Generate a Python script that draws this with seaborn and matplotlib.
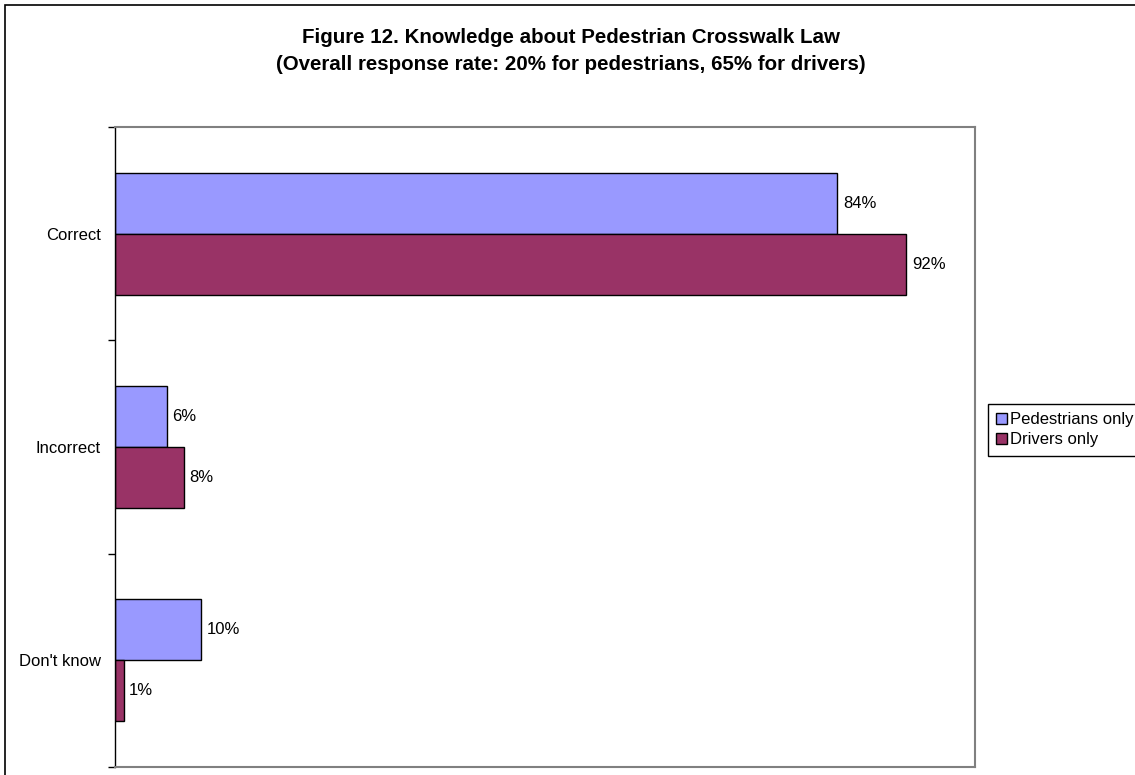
import matplotlib
matplotlib.use("Agg")
import matplotlib.pyplot as plt
from matplotlib.patches import Rectangle
from matplotlib.ticker import FixedLocator
import seaborn as sns
import pandas as pd

categories = ["Correct", "Incorrect", "Don't know"]
series_names = ["Pedestrians only", "Drivers only"]
pedestrians = [84, 6, 10]
drivers = [92, 8, 1]
colors = ["#9999FF", "#993366"]

title = ("Figure 12. Knowledge about Pedestrian Crosswalk Law\n"
         "(Overall response rate: 20% for pedestrians, 65% for drivers)")

df = pd.DataFrame({
    "category": categories * 2,
    "group": [series_names[0]] * 3 + [series_names[1]] * 3,
    "value": pedestrians + drivers,
})

sns.set_theme(style="white")
plt.rcParams["font.family"] = ["Liberation Sans", "DejaVu Sans"]
plt.rcParams["text.color"] = "black"
plt.rcParams["ytick.color"] = "black"
plt.rcParams["ytick.labelcolor"] = "black"

W, H = 1135, 775
fig = plt.figure(figsize=(W / 100, H / 100), dpi=100)
ax = fig.add_axes([115 / W, 1 - 767 / H, (975 - 115) / W, (767 - 127) / H])

sns.barplot(data=df, y="category", x="value", hue="group", orient="h",
            order=categories, hue_order=series_names, palette=colors,
            width=0.573, edgecolor="black", linewidth=1.0, saturation=1,
            ax=ax, legend=True)

for cont in ax.containers:
    ax.bar_label(cont, labels=[f"{v:.0f}%" for v in cont.datavalues],
                 padding=4, fontsize=12, color="black")

ax.set_xlim(0, 100)
ax.set_ylim(2.5, -0.5)
ax.set_xlabel("")
ax.set_ylabel("")
ax.set_xticks([])
ax.set_yticks(range(len(categories)))
ax.set_yticklabels(categories, fontsize=12, color="black")
ax.yaxis.set_minor_locator(FixedLocator([-0.5, 0.5, 1.5, 2.5]))
ax.tick_params(axis="y", which="major", length=0, pad=10)
ax.tick_params(axis="y", which="minor", left=True, length=5, width=1,
               color="black", direction="out")

for side in ["top", "right", "bottom"]:
    ax.spines[side].set_color("#808080")
    ax.spines[side].set_linewidth(1.5)
ax.spines["left"].set_color("black")
ax.spines["left"].set_linewidth(1.0)

handles, labels = ax.get_legend_handles_labels()
ax.get_legend().remove()
leg = fig.legend(handles, labels, loc="upper left",
                 bbox_to_anchor=(988 / W, 1 - 404 / H), borderaxespad=0,
                 fontsize=12, frameon=True, fancybox=False, framealpha=1,
                 edgecolor="black", handlelength=0.65, handleheight=0.65,
                 handletextpad=0.2, borderpad=0.5, labelspacing=0.3)
leg.get_frame().set_linewidth(1.0)

fig.text(571 / W, 1 - 51 / H, title, ha="center", va="center",
         fontsize=14.8, fontweight="bold", linespacing=1.55, color="black")

# outer chart border (runs off the right and bottom edges)
fig.patches.append(Rectangle((5 / W, -0.1), 1.2, (H - 5) / H + 0.1,
                             transform=fig.transFigure, fill=False,
                             edgecolor="black", linewidth=1.2, clip_on=False))

fig.savefig("out.png", dpi=100, facecolor="white")
